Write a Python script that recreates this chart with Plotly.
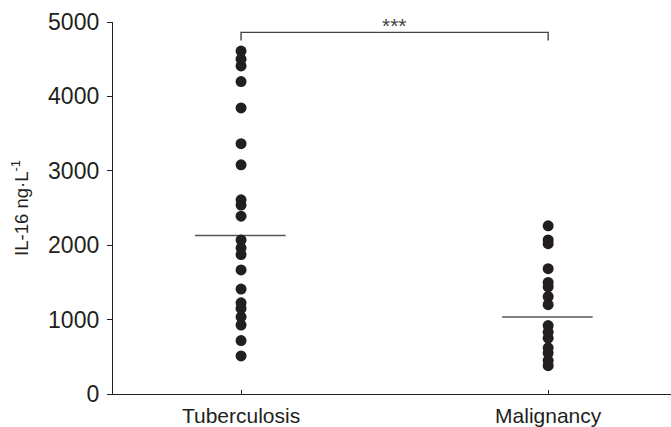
import plotly.graph_objects as go

categories = ["Tuberculosis", "Malignancy"]
tb_values = [4610, 4500, 4410, 4200, 3845, 3364, 3080, 2610, 2540, 2390,
             2070, 1962, 1874, 1667, 1411, 1226, 1150, 1036, 926, 718, 512]
mal_values = [2260, 2070, 2020, 1684, 1500, 1440, 1310, 1200,
              920, 830, 750, 620, 550, 450, 380]
medians = [2130, 1035]
y_ticks = [0, 1000, 2000, 3000, 4000, 5000]
sig_label = "***"

ink = "#231f20"
fig = go.Figure()
for i, vals in enumerate([tb_values, mal_values]):
    fig.add_trace(go.Scatter(
        x=[i + 1] * len(vals), y=vals, mode="markers",
        marker=dict(size=11, color=ink, line=dict(width=0)),
        showlegend=False, cliponaxis=False, hoverinfo="y"))

# median lines
for i, m in enumerate(medians):
    fig.add_shape(type="line", x0=i + 1 - 0.15, x1=i + 1 + 0.145, y0=m, y1=m,
                  line=dict(color="#555555", width=1.6), layer="below")

# significance bracket
yb = 4860
yleg = 4750
fig.add_shape(type="path",
              path=f"M 1,{yleg} L 1,{yb} L 2,{yb} L 2,{yleg}",
              line=dict(color="#444444", width=1.4))
fig.add_annotation(x=1.5, y=yb, text=sig_label, showarrow=False,
                   yanchor="bottom", yshift=-7,
                   font=dict(size=21, color="#444444", family="Liberation Sans, Arial"))

fig.update_layout(
    width=671, height=427,
    margin=dict(l=113, r=0, t=22, b=27),
    plot_bgcolor="white", paper_bgcolor="white",
    font=dict(family="Liberation Sans, Arial", color=ink, size=20),
    xaxis=dict(range=[0.583, 2.40], tickmode="array", tickvals=[1, 2],
               ticktext=categories, showline=True, linecolor=ink, linewidth=1.3,
               ticks="inside", ticklen=4, tickcolor=ink, showgrid=False,
               zeroline=False, tickfont=dict(size=21), ticklabelstandoff=3),
    yaxis=dict(range=[0, 5000], tickmode="array", tickvals=y_ticks,
               showline=True, linecolor=ink, linewidth=1.3,
               ticks="outside", ticklen=5, tickcolor=ink, showgrid=False,
               zeroline=False, tickfont=dict(size=23), ticklabelstandoff=3,
               title=dict(text="IL-16 ng·L<sup>-1</sup>", font=dict(size=18.5),
                          standoff=14)),
)

fig.write_html("out.html", config={"displayModeBar": False},
               post_script="document.body.style.margin='0';document.body.style.overflow='hidden';")
